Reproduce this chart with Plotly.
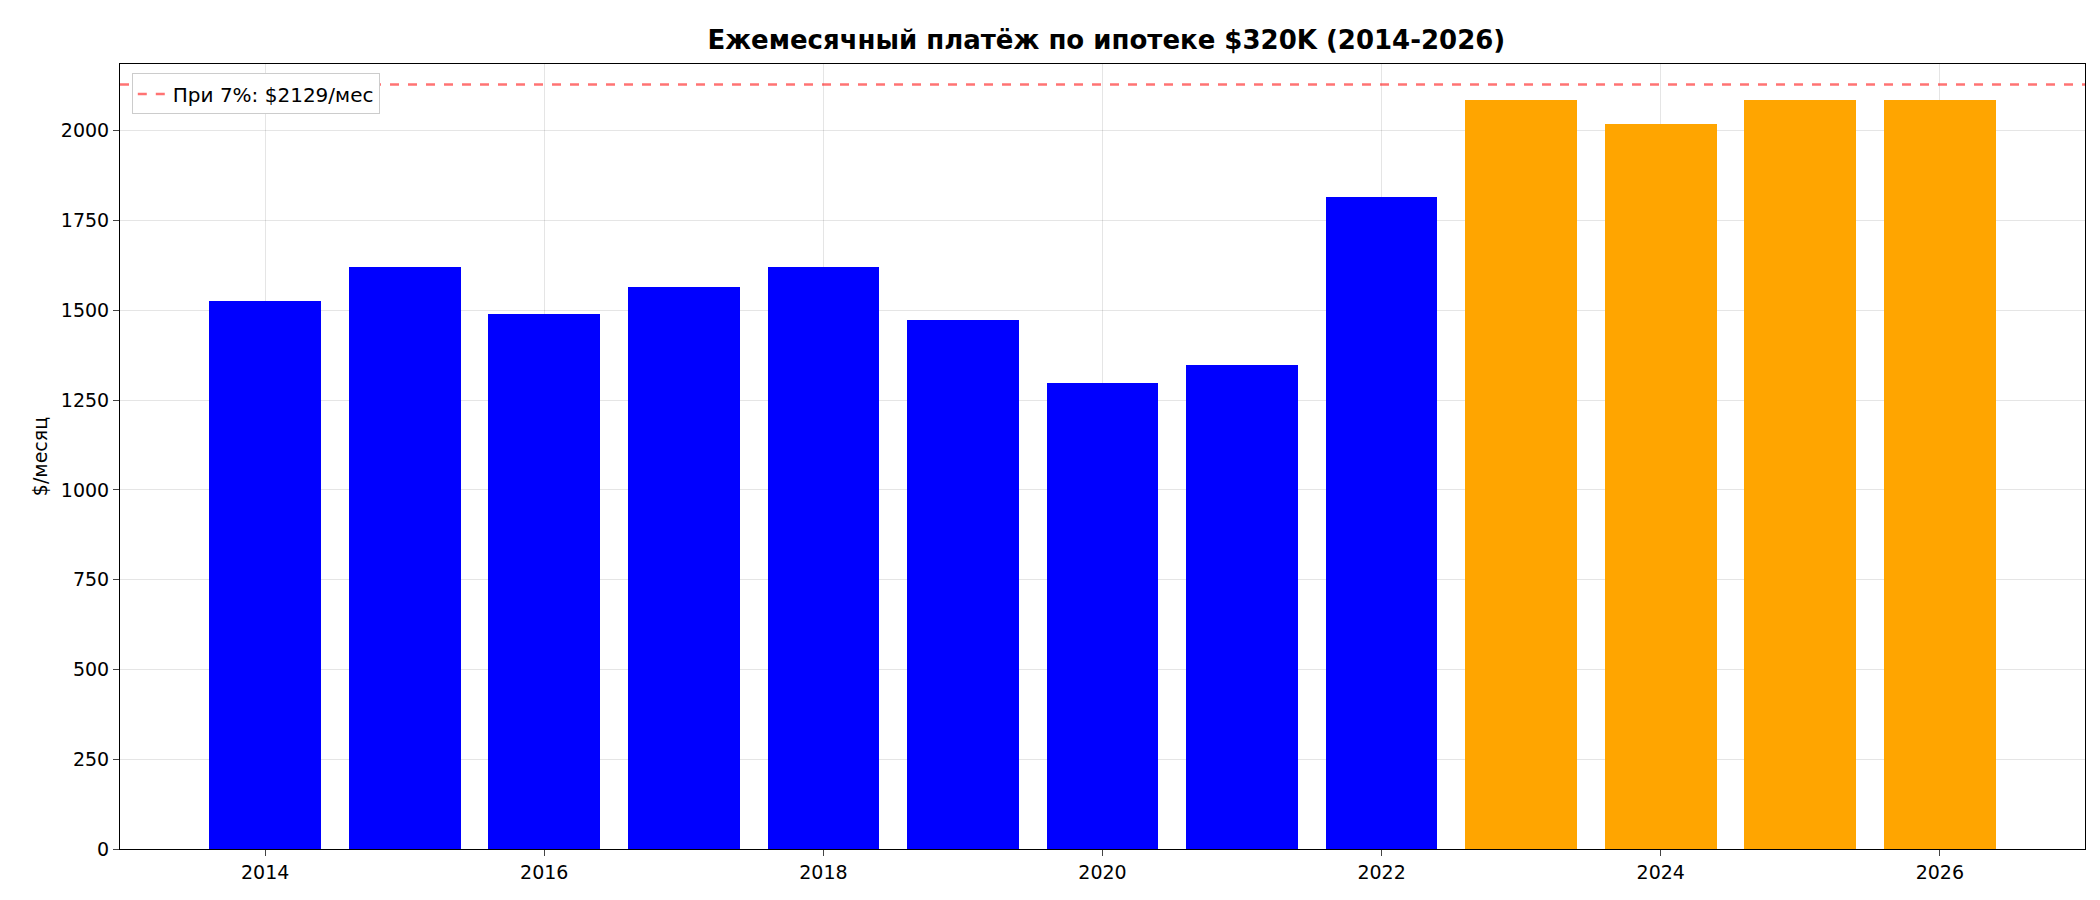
import plotly.graph_objects as go

years = list(range(2014, 2027))
payments = [1527, 1620, 1490, 1565, 1620, 1473, 1297, 1348, 1815, 2086, 2020, 2086, 2086]
colors = ["blue"] * 9 + ["orange"] * 4
ref_value = 2129
ref_label = "При 7%: $2129/мес"

fig = go.Figure()
fig.add_trace(go.Bar(x=years, y=payments, marker=dict(color=colors, line=dict(width=0)),
                     width=0.8, showlegend=False))
fig.add_trace(go.Scatter(x=[2012.96, 2027.04], y=[ref_value, ref_value], mode="lines",
                         line=dict(color="rgba(255,0,0,0.55)", dash="dash", width=2.5),
                         name=ref_label, showlegend=True))
fig.update_layout(
    width=2100, height=900, plot_bgcolor="white", paper_bgcolor="white",
    font=dict(family="DejaVu Sans", size=19, color="black"),
    title=dict(text="<b>Ежемесячный платёж по ипотеке $320K (2014-2026)</b>", x=0.523, y=0.975,
               xanchor="center", font=dict(size=26)),
    margin=dict(l=112, r=23, t=56, b=59, autoexpand=False),
    legend=dict(x=0.006, y=0.988, xanchor="left", yanchor="top", bgcolor="white",
                bordercolor="#cccccc", borderwidth=1, font=dict(size=20)),
    bargap=0,
)
fig.update_xaxes(range=[2012.96, 2027.04], tickvals=[2014, 2016, 2018, 2020, 2022, 2024, 2026],
                 showgrid=True, gridcolor="rgba(0,0,0,0.1)", showline=True, linecolor="black",
                 mirror=True, ticks="outside", ticklen=6, zeroline=False, tickfont=dict(size=19))
fig.update_yaxes(range=[0, 2186], tickvals=list(range(0, 2001, 250)),
                 title=dict(text="$/месяц", standoff=8, font=dict(size=19)),
                 showgrid=True, gridcolor="rgba(0,0,0,0.1)", showline=True, linecolor="black",
                 mirror=True, ticks="outside", ticklen=6, zeroline=False, tickfont=dict(size=19))
fig.write_html("out.html")
